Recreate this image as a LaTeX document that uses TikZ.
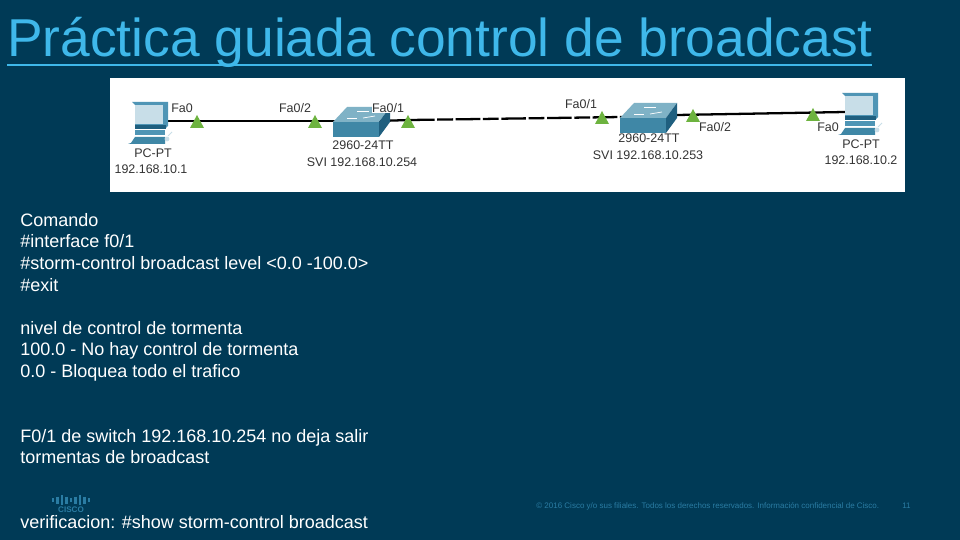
\documentclass[tikz,border=0pt]{standalone}
\usepackage{fontspec}
\setmainfont{Liberation Sans}
\definecolor{slidebg}{HTML}{003A56}
\definecolor{titleblue}{HTML}{3FB8EA}
\definecolor{footblue}{HTML}{2A7CA3}
\definecolor{linkgreen}{HTML}{6DB33F}
\definecolor{swfront}{HTML}{3F87A6}
\definecolor{swtop}{HTML}{7FB2C6}
\definecolor{swside}{HTML}{1F5F7F}
\definecolor{pcblue}{HTML}{4F95B5}
\definecolor{pcscreen}{HTML}{C8DEE8}

\begin{document}
\begin{tikzpicture}[x=0.02cm,y=-0.02cm]
		\tikzset{
			title text/.style = {anchor = west,inner sep = 0pt,text = titleblue,font = \fontsize{30.35pt}{34pt}\selectfont},
			body text/.style = {anchor = north west,align = left,inner sep = 0pt,text = white,font = \fontsize{10.24pt}{12.3pt}\selectfont},
			net text/.style = {inner sep = 0pt,text = black!80,font = \fontsize{7.1pt}{8pt}\selectfont},
			foot text/.style = {anchor = west,inner sep = 0pt,text = footblue,font = \fontsize{4.55pt}{5pt}\selectfont},
			port/.style = {fill = linkgreen,line width = 0pt},
			link/.style = {line width = 1.3pt,black},
			pc icon/.pic = {
				\fill [pcblue] (0,0) -- (36,0) -- (36,24) -- (33,27) -- (3,27) -- (3,3) -- cycle;
				\fill [pcscreen] (3,3) rectangle (31,22);
				\fill [swside] (3,23) rectangle (34,27);
				\fill [pcblue] (3,28) rectangle (33,33);
				\fill [swfront] (-1,41) -- (3,35) -- (33,35) -- (33,42) -- (-4,42) -- cycle;
				\draw [pcscreen,line width = 0.5pt] (36,34) -- (40,30);
				\fill [white!70!pcblue] (35,37) circle (2.4);
			},
			switch icon/.pic = {
				\fill [swfront] (0,15) rectangle (46,30);
				\fill [swtop] (0,15) -- (14,0) -- (57,0) -- (46,15) -- cycle;
				\fill [swside] (46,15) -- (57,0) -- (57,15) -- (46,30) -- cycle;
				\draw [white,line width = 0.4pt] (14,11) -- (24,11);
				\draw [white,line width = 0.4pt] (24,4) -- (36,4);
				\draw [white,line width = 0.4pt] (30,11) -- (42,9);
			}
		}
		\fill [slidebg] (0,0) rectangle (960,540);
		% title
		\node [title text] (title) at (7,42) {Práctica guiada control de broadcast};
		\draw [titleblue,line width = 1.2pt] (7,65) -- (872,65);
		% network picture
		\fill [white] (110,78) rectangle (905,192);
		\coordinate (pcA) at (168,121);
		\coordinate (swA) at (335,121);
		\coordinate (swAr) at (378,121);
		\coordinate (swB) at (622,117);
		\coordinate (swBr) at (677,115);
		\coordinate (pcB) at (845,112);
		\draw [link] (pcA) -- (swA);
		\draw [link] (swAr) -- (410,120);
		\draw [link,dash pattern = on 14pt off 1.5pt on 9pt off 1.5pt] (410,120) -- (swB);
		\draw [link] (swBr) -- (pcB);
		\pic at (132,102) {pc icon};
		\pic at (842,93) {pc icon};
		\pic at (333,107) {switch icon};
		\pic at (620,103) {switch icon};
		\foreach \a/\b in {197/128,315/128,408/128,602/124,693/122,813/121}
		{
			\fill [port] (\a-7,\b) -- (\a,\b-13) -- (\a+7,\b) -- cycle;
		}
		\node [net text] (portA) at (182,108) {Fa0};
		\node [net text] (portB) at (295,108) {Fa0/2};
		\node [net text,fill = white] (portC) at (388,108) {Fa0/1};
		\node [net text] (portD) at (581,104) {Fa0/1};
		\node [net text] (portE) at (715,127) {Fa0/2};
		\node [net text] (portF) at (828,127) {Fa0};
		\node [net text] (nameA) at (153,153) {PC-PT};
		\node [net text] (ipA) at (151,169) {192.168.10.1};
		\node [net text] (nameB) at (363,145) {2960-24TT};
		\node [net text] (ipB) at (362,162) {SVI 192.168.10.254};
		\node [net text] (nameC) at (649,138) {2960-24TT};
		\node [net text] (ipC) at (648,155) {SVI 192.168.10.253};
		\node [net text] (nameD) at (861,144) {PC-PT};
		\node [net text] (ipD) at (861,160) {192.168.10.2};
		% body
		\node [body text] (comando) at (20,213) {Comando\\\#interface f0/1\\\#storm-control broadcast level <0.0 -100.0>\\\#exit};
		\node [body text] (nivel) at (20,321) {nivel de control de tormenta\\100.0 - No hay control de tormenta\\0.0 - Bloquea todo el trafico};
		\node [body text] (salir) at (20,429) {F0/1 de switch 192.168.10.254 no deja salir\\tormentas de broadcast};
		% logo
		\foreach \a/\b in {53/2,57.5/3.5,62/5,66.5/3.5,71/2,75.5/3.5,80/5,84.5/3.5,89/2}
		{
			\draw [footblue,line width = 1.5pt] (\a,500-\b) -- (\a,500+\b);
		}
		\node [inner sep = 0pt,text = footblue,font = \bfseries\fontsize{4.6pt}{5pt}\selectfont] (cisco) at (71,510) {CISCO};
		\node [body text] (verif) at (20,515) {verificacion: \#show storm-control broadcast};
		% footer
		\node [foot text] (foot) at (536,506) {© 2016 Cisco y/o sus filiales. Todos los derechos reservados. Información confidencial de Cisco.};
		\node [foot text] (page) at (902,506) {11};
	\end{tikzpicture}
\end{document}
